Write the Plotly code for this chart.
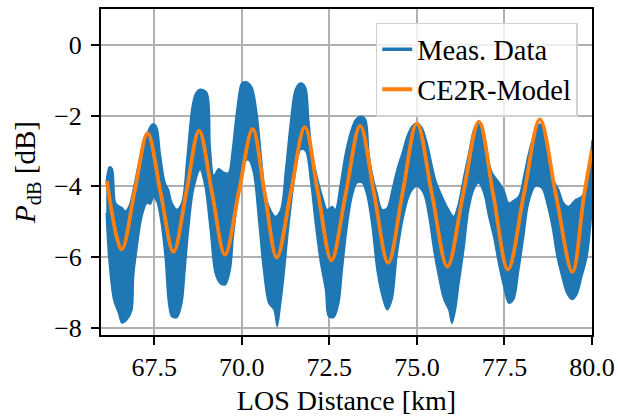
import plotly.graph_objects as go

# ---- data ----
upper_x = [66.13, 66.22, 66.30, 66.39, 66.48, 66.58, 66.67, 66.76, 66.82, 66.96, 67.10, 67.24, 67.39, 67.48,
           67.58, 67.67, 67.81, 67.91, 68.00, 68.15, 68.29, 68.43, 68.57, 68.67, 68.81, 69.00, 69.10, 69.20,
           69.34, 69.48, 69.62, 69.72, 69.86, 70.00, 70.14, 70.29, 70.43, 70.57, 70.67, 70.82, 70.96, 71.11,
           71.25, 71.39, 71.53, 71.68, 71.82, 71.91, 72.01, 72.15, 72.30, 72.44, 72.58, 72.67, 72.82, 72.96,
           73.10, 73.25, 73.39, 73.53, 73.63, 73.72, 73.86, 74.01, 74.15, 74.29, 74.43, 74.58, 74.72, 74.86,
           75.00, 75.15, 75.29, 75.53, 75.72, 75.91, 76.05, 76.19, 76.34, 76.48, 76.62, 76.76, 76.86, 77.00,
           77.15, 77.29, 77.48, 77.62, 77.76, 77.91, 78.05, 78.19, 78.33, 78.48, 78.62, 78.76, 78.90, 79.05,
           79.19, 79.33, 79.52, 79.71, 79.86, 80.00]
upper_y = [-3.85, -3.45, -3.50, -4.45, -4.55, -4.60, -4.70, -4.60, -4.45, -3.80, -3.15, -2.68, -2.30, -2.23,
           -2.35, -3.06, -3.90, -4.10, -4.45, -4.65, -4.45, -3.25, -1.83, -1.40, -1.26, -1.35, -2.90, -3.70,
           -3.50, -3.60, -3.62, -3.06, -1.83, -1.08, -1.05, -1.20, -1.92, -3.30, -4.20, -4.66, -4.85, -4.66,
           -3.53, -2.20, -1.26, -1.08, -1.20, -2.10, -3.06, -3.72, -4.28, -4.66, -4.57, -4.66, -3.90, -3.06,
           -2.49, -2.11, -2.02, -2.10, -3.06, -3.62, -4.19, -4.66, -4.61, -4.10, -3.53, -3.06, -2.58, -2.30,
           -2.21, -2.35, -2.77, -3.81, -4.28, -4.66, -4.85, -4.47, -3.72, -3.06, -2.40, -2.16, -2.25, -3.06,
           -3.62, -3.81, -4.10, -4.47, -4.40, -4.28, -3.72, -3.06, -2.58, -2.25, -2.30, -3.06, -3.81, -4.10,
           -4.47, -4.57, -4.38, -4.28, -3.90, -2.70]

lower_x = [66.13, 66.20, 66.34, 66.48, 66.58, 66.72, 66.86, 66.91, 67.00, 67.15, 67.29, 67.39, 67.48, 67.58,
           67.67, 67.81, 67.91, 68.00, 68.15, 68.29, 68.38, 68.48, 68.62, 68.81, 68.95, 69.10, 69.24, 69.38,
           69.53, 69.67, 69.76, 69.90, 70.05, 70.19, 70.33, 70.48, 70.62, 70.77, 70.92, 71.01, 71.11, 71.20,
           71.34, 71.49, 71.68, 71.82, 71.96, 72.10, 72.25, 72.39, 72.48, 72.63, 72.77, 72.87, 73.01, 73.15,
           73.29, 73.44, 73.58, 73.72, 73.86, 74.01, 74.15, 74.29, 74.43, 74.62, 74.81, 75.00, 75.19, 75.34,
           75.48, 75.62, 75.77, 75.91, 76.00, 76.10, 76.19, 76.34, 76.48, 76.62, 76.76, 76.91, 77.05, 77.19,
           77.33, 77.48, 77.62, 77.76, 77.91, 78.05, 78.19, 78.38, 78.57, 78.71, 78.86, 79.00, 79.14, 79.28,
           79.43, 79.57, 79.71, 79.86, 80.00]
lower_y = [-4.75, -5.98, -7.20, -7.58, -7.86, -7.77, -7.50, -6.55, -5.80, -4.85, -4.47, -4.50, -4.30, -4.45,
           -4.85, -5.98, -7.30, -7.68, -7.70, -7.30, -6.36, -5.23, -4.10, -3.53, -4.00, -5.23, -6.45, -6.74,
           -6.78, -6.36, -5.40, -4.28, -3.34, -3.25, -3.60, -4.94, -6.36, -7.30, -7.49, -7.96, -7.30, -6.55,
           -5.13, -3.90, -2.96, -3.00, -3.81, -5.04, -6.17, -6.92, -7.68, -7.70, -7.30, -6.36, -5.13, -4.28,
           -3.90, -3.90, -4.28, -5.13, -6.36, -7.11, -7.49, -7.20, -5.98, -4.85, -4.19, -4.00, -4.20, -4.85,
           -5.79, -6.55, -7.20, -7.49, -7.87, -7.50, -6.83, -5.79, -4.66, -4.10, -3.90, -4.19, -4.85, -5.42,
           -6.17, -6.83, -7.30, -7.20, -6.36, -5.42, -4.47, -4.00, -4.05, -4.47, -5.13, -5.98, -6.55, -7.02,
           -7.20, -7.05, -6.55, -5.98, -4.66]

model_x = [66.15, 66.57, 66.94, 67.31, 67.68, 68.05, 68.42, 68.78, 69.15, 69.52, 69.915, 70.31, 70.655,
           71.00, 71.40, 71.80, 72.18, 72.56, 72.97, 73.38, 73.78, 74.18, 74.59, 75.00, 75.435, 75.87,
           76.32, 76.77, 77.185, 77.60, 78.055, 78.51, 78.975, 79.44, 79.77, 80.00]
model_y = [-3.85, -5.78, -4.14, -2.50, -4.17, -5.85, -4.14, -2.43, -4.18, -5.93, -4.16, -2.38, -4.20,
           -6.01, -4.17, -2.33, -4.21, -6.09, -4.19, -2.29, -4.22, -6.16, -4.19, -2.22, -4.25, -6.27,
           -4.22, -2.17, -4.26, -6.35, -4.23, -2.11, -4.27, -6.42, -4.27, -2.97]

x_tickvals = [67.5, 70.0, 72.5, 75.0, 77.5, 80.0]
x_ticktext = ["67.5", "70.0", "72.5", "75.0", "77.5", "80.0"]
y_tickvals = [0, -2, -4, -6, -8]
y_ticktext = ["0", "\u22122", "\u22124", "\u22126", "\u22128"]

BLUE = "#1f77b4"
ORANGE = "#ff7f0e"
FONT = "Liberation Serif"

fig = go.Figure()
fig.add_trace(go.Scatter(x=lower_x, y=lower_y, mode="lines",
                         line=dict(color=BLUE, width=1.5, shape="spline", smoothing=0.9),
                         showlegend=False, hoverinfo="skip"))
fig.add_trace(go.Scatter(x=upper_x, y=upper_y, mode="lines", fill="tonexty", fillcolor=BLUE,
                         line=dict(color=BLUE, width=1.5, shape="spline", smoothing=0.9),
                         showlegend=False, hoverinfo="skip"))
fig.add_trace(go.Scatter(x=[None], y=[None], mode="lines", name="Meas. Data",
                         line=dict(color=BLUE, width=3.5)))
fig.add_trace(go.Scatter(x=model_x, y=model_y, mode="lines", name="CE2R-Model",
                         line=dict(color=ORANGE, width=3.8, shape="spline", smoothing=1.0)))

axis_common = dict(showline=True, mirror=True, linecolor="black", linewidth=2,
                   ticks="outside", ticklen=8, tickwidth=1.8, tickcolor="black",
                   showgrid=True, gridcolor="#b0b0b0", gridwidth=1.5, zeroline=False,
                   automargin=False,
                   tickfont=dict(family=FONT, size=26, color="black"))

fig.update_layout(
    width=618, height=416,
    margin=dict(l=101, r=26, t=9, b=81),
    paper_bgcolor="white", plot_bgcolor="white",
    font=dict(family=FONT, color="black"),
    xaxis=dict(range=[65.98, 80.0], tickvals=x_tickvals, ticktext=x_ticktext,
               title=dict(text="LOS Distance [km]", font=dict(family=FONT, size=28), standoff=12),
               **axis_common),
    yaxis=dict(range=[-8.2, 1.01], tickvals=y_tickvals, ticktext=y_ticktext,
               ticklabelstandoff=4,
               title=dict(text="<i>P</i><sub>dB</sub> [dB]", font=dict(family=FONT, size=29), standoff=10),
               **axis_common),
    legend=dict(x=0.971, y=0.958, xanchor="right", yanchor="top", traceorder="normal",
                bgcolor="rgba(255,255,255,0.8)", bordercolor="#d0d0d0", borderwidth=1.5,
                font=dict(family=FONT, size=28.5, color="black")),
    showlegend=True,
)

fig.write_html("out.html")
